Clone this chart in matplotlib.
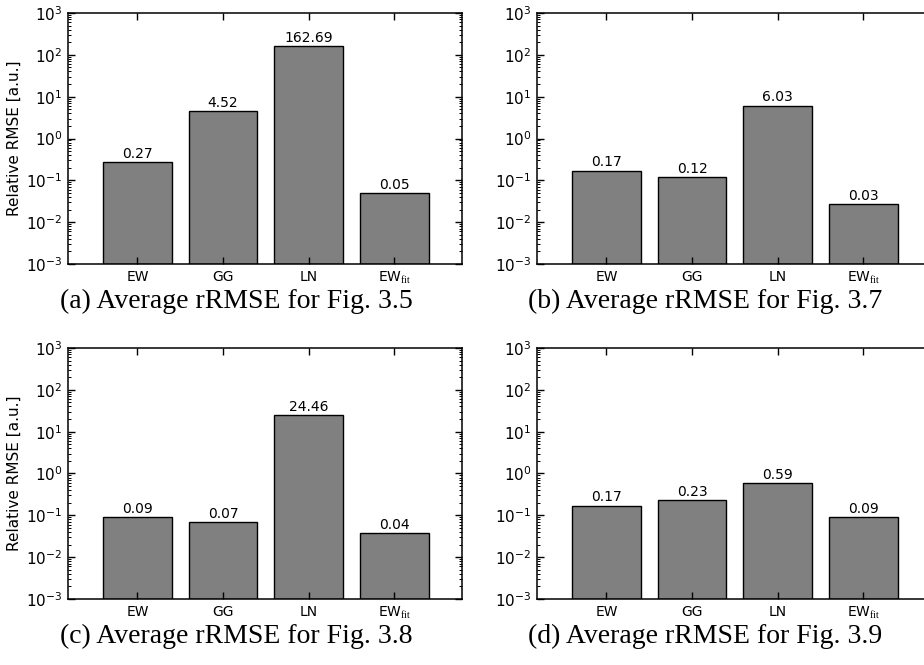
import matplotlib
matplotlib.use("Agg")
import matplotlib.pyplot as plt
from matplotlib.ticker import LogLocator, NullFormatter

plt.rcParams["font.family"] = "DejaVu Sans"
plt.rcParams["mathtext.fontset"] = "custom"
plt.rcParams["mathtext.rm"] = "Liberation Serif"
plt.rcParams["axes.unicode_minus"] = False

methods = ["EW", "GG", "LN", r"EW$_{\mathrm{fit}}$"]

rrmse_a = [0.268, 4.52, 162.69, 0.050]
rrmse_b = [0.17, 0.12, 6.03, 0.026]
rrmse_c = [0.09, 0.067, 24.46, 0.037]
rrmse_d = [0.17, 0.23, 0.59, 0.088]

captions = [
    "(a) Average rRMSE for Fig. 3.5",
    "(b) Average rRMSE for Fig. 3.7",
    "(c) Average rRMSE for Fig. 3.8",
    "(d) Average rRMSE for Fig. 3.9",
]

W, H = 924, 665
fig = plt.figure(figsize=(W / 100, H / 100), dpi=100)

# axes boxes in pixels: left, top
boxes = [(68, 13), (537, 13), (68, 348), (537, 348)]
ax_w, ax_h = 394, 251
data = [rrmse_a, rrmse_b, rrmse_c, rrmse_d]

for i, (vals, (left, top)) in enumerate(zip(data, boxes)):
    ax = fig.add_axes([left / W, 1 - (top + ax_h) / H, ax_w / W, ax_h / H])
    x = list(range(1, len(vals) + 1))
    ax.bar(x, vals, width=0.8, bottom=1e-3, color="#808080",
           edgecolor="black", linewidth=1.0)
    ax.set_yscale("log")
    ax.set_ylim(1e-3, 1e3)
    ax.set_xlim(0.19, 4.79)
    ax.set_xticks(x)
    ax.set_xticklabels(methods)
    ax.yaxis.set_major_locator(LogLocator(base=10, numticks=10))
    ax.yaxis.set_minor_locator(LogLocator(base=10, subs=range(2, 10), numticks=20))
    ax.yaxis.set_minor_formatter(NullFormatter())
    ax.tick_params(which="both", direction="in", top=True, right=True)
    ax.tick_params(which="major", length=5, width=1)
    ax.tick_params(which="minor", length=2.5, width=0.7)
    ax.tick_params(axis="x", pad=4, labelsize=10)
    ax.tick_params(axis="y", pad=4, labelsize=11)
    for s in ax.spines.values():
        s.set_linewidth(1.1)
    for xi, v in zip(x, vals):
        ax.text(xi, v * 1.08, "%.2f" % v, ha="center", va="bottom", fontsize=10)
    if i % 2 == 0:
        ax.set_ylabel("Relative RMSE [a.u.]", fontsize=11, labelpad=3)

    fig.text((left + ax_w / 2 - 29) / W, 1 - (top + ax_h + 37) / H, captions[i],
             ha="center", va="center", fontsize=20, family="Liberation Serif")

fig.savefig("out.png", dpi=100)
